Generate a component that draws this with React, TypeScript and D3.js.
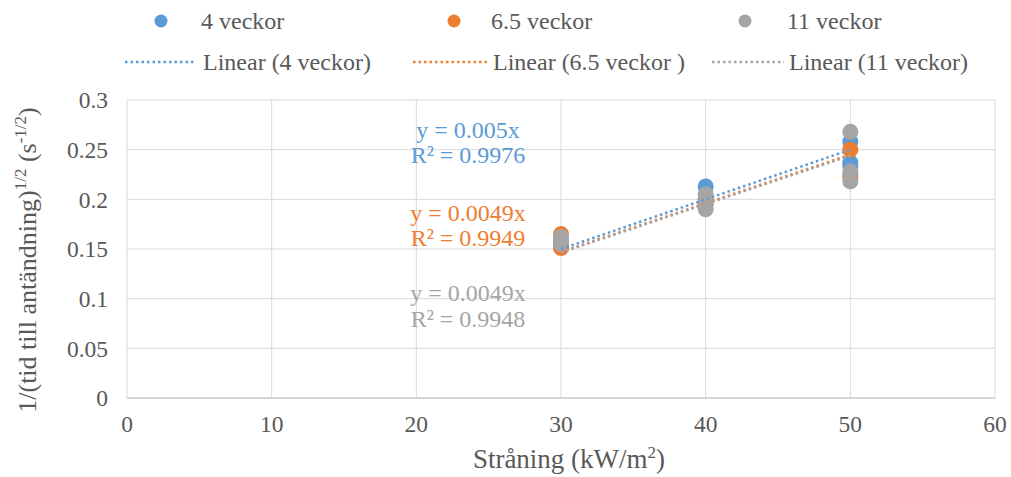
import React from "react";
import * as d3 from "d3";

const xTicks = [0, 10, 20, 30, 40, 50, 60];
const yTicks = [0, 0.05, 0.1, 0.15, 0.2, 0.25, 0.3];

const seriesNames = ["4 veckor", "6.5 veckor", "11 veckor"];
const trendNames = ["Linear (4 veckor)", "Linear (6.5 veckor )", "Linear (11 veckor)"];
const colors = ["#5b9bd5", "#ed7d31", "#a5a5a5"];

const xBlue = [30, 30, 40, 40, 50, 50, 50];
const yBlue = [0.152, 0.158, 0.213, 0.2, 0.258, 0.237, 0.233];
const xOrange = [30, 30, 40, 40, 50, 50, 50];
const yOrange = [0.165, 0.151, 0.195, 0.198, 0.25, 0.225, 0.222];
const xGray = [30, 30, 30, 40, 40, 40, 50, 50, 50];
const yGray = [0.162, 0.155, 0.158, 0.205, 0.195, 0.19, 0.268, 0.228, 0.218];

const slopes = [0.005, 0.0049, 0.00488];
const eqTexts = ["y = 0.005x", "y = 0.0049x", "y = 0.0049x"];
const r2Texts = ["R² = 0.9976", "R² = 0.9949", "R² = 0.9948"];

const W = 1011, H = 477;
const left = 127, right = 995, top = 100, bottom = 398;
const font = "'Liberation Serif', 'Times New Roman', Times, serif";

export default function App() {
  const x = d3.scaleLinear().domain([0, 60]).range([left, right]);
  const y = d3.scaleLinear().domain([0, 0.3]).range([bottom, top]);
  const series = [
    { xs: xBlue, ys: yBlue },
    { xs: xOrange, ys: yOrange },
    { xs: xGray, ys: yGray },
  ];
  const line = d3.line<[number, number]>().x(d => x(d[0])).y(d => y(d[1]));
  const eqY = [[130, 155], [213, 238], [293, 319]];
  const markerX = [161, 454, 745];
  const textX = [201, 491, 787];
  const lineX = [[125, 196], [413, 488], [712, 784]];
  const T = (props: any) => <text fontFamily={font} style={{ fontFamily: font }} {...props} />;
  return (
    <svg width={W} height={H} style={{ position: "absolute", left: 0, top: 0, background: "#fff" }}>
      <rect width={W} height={H} fill="#fff" />
      {yTicks.map(t => (
        <line key={"gy" + t} x1={left} x2={right} y1={y(t)} y2={y(t)} stroke="#d9d9d9" strokeWidth={1} />
      ))}
      {xTicks.map(t => (
        <line key={"gx" + t} x1={x(t)} x2={x(t)} y1={top} y2={bottom} stroke="#d9d9d9" strokeWidth={1} />
      ))}
      <line x1={left} x2={right} y1={bottom} y2={bottom} stroke="#bfbfbf" strokeWidth={1} />
      {yTicks.map(t => (
        <T key={"ty" + t} x={left - 19} y={y(t)} dy="0.35em" textAnchor="end" fontSize={23.5} fill="#595959">{String(t)}</T>
      ))}
      {xTicks.map(t => (
        <T key={"tx" + t} x={x(t)} y={432} textAnchor="middle" fontSize={23.5} fill="#595959">{String(t)}</T>
      ))}
      <T x={x(30) + 8} y={468} textAnchor="middle" fontSize={27} fill="#595959">
        Stråning (kW/m<tspan dy={-10} fontSize={17}>2</tspan><tspan dy={10}>)</tspan>
      </T>
      <T transform={`translate(36, 260) rotate(-90)`} textAnchor="middle" fontSize={26} fill="#595959">
        1/(tid till antändning)<tspan dy={-10} fontSize={17}>1/2</tspan><tspan dy={10}> (s</tspan><tspan dy={-10} fontSize={17}>-1/2</tspan><tspan dy={10}>)</tspan>
      </T>
      {series.map((s, i) => (
        <g key={"s" + i}>
          {s.xs.map((xv, j) => (
            <circle key={j} cx={x(xv)} cy={y(s.ys[j])} r={8} fill={colors[i]} />
          ))}
        </g>
      ))}
      {slopes.map((m, i) => (
        <path key={"tl" + i} d={line([[30, 30 * m], [50, 50 * m]]) || ""} fill="none" stroke={colors[i]} strokeWidth={2.5} strokeDasharray="2.5 3" />
      ))}
      {eqTexts.map((t, i) => (
        <g key={"eq" + i}>
          <T x={468} y={eqY[i][0]} dy="0.35em" textAnchor="middle" fontSize={24} fill={colors[i]}>{t}</T>
          <T x={468} y={eqY[i][1]} dy="0.35em" textAnchor="middle" fontSize={24} fill={colors[i]}>{r2Texts[i]}</T>
        </g>
      ))}
      {seriesNames.map((n, i) => (
        <g key={"lg" + i}>
          <circle cx={markerX[i]} cy={21} r={6.5} fill={colors[i]} />
          <T x={textX[i]} y={21} dy="0.35em" fontSize={24} fill="#595959">{n}</T>
          <line x1={lineX[i][0]} x2={lineX[i][1]} y1={62} y2={62} stroke={colors[i]} strokeWidth={2.5} strokeDasharray="2.5 3" />
          <T x={textX[i] + 2} y={62} dy="0.35em" fontSize={24} fill="#595959">{trendNames[i]}</T>
        </g>
      ))}
    </svg>
  );
}
